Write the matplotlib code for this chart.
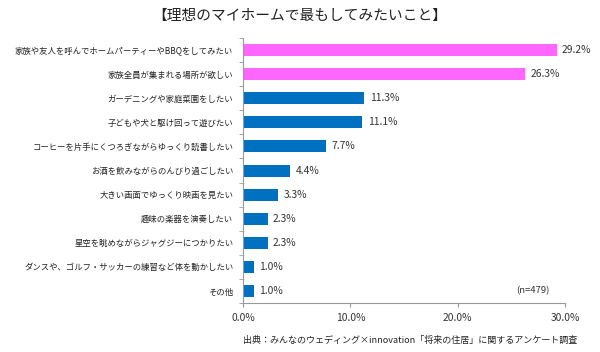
import matplotlib
matplotlib.use("Agg")
import matplotlib.pyplot as plt
import numpy as np

plt.rcParams['font.family'] = ['Noto Sans CJK JP', 'DejaVu Sans']

labels = [
    "家族や友人を呼んでホームパーティーやBBQをしてみたい",
    "家族全員が集まれる場所が欲しい",
    "ガーデニングや家庭菜園をしたい",
    "子どもや犬と駆け回って遊びたい",
    "コーヒーを片手にくつろぎながらゆっくり読書したい",
    "お酒を飲みながらのんびり過ごしたい",
    "大きい画面でゆっくり映画を見たい",
    "趣味の楽器を演奏したい",
    "星空を眺めながらジャグジーにつかりたい",
    "ダンスや、ゴルフ・サッカーの練習など体を動かしたい",
    "その他",
]
values = [29.2, 26.3, 11.3, 11.1, 7.7, 4.4, 3.3, 2.3, 2.3, 1.0, 1.0]
highlight = [True, True] + [False] * 9

pink = "#FF66FF"
blue = "#0070C0"
colors = [pink if h else blue for h in highlight]

fig = plt.figure(figsize=(6, 3.52), dpi=100)
ax = fig.add_axes([0.405, 0.139, 0.537, 0.753])

y = np.arange(len(labels))
ax.barh(y, values, height=0.5, color=colors)
for yi, v in zip(y, values):
    ax.text(v + 0.5, yi, f"{v:.1f}%", va="center", ha="left", fontsize=7.4, color="#333333")

ax.set_ylim(len(labels) - 0.5, -0.5)
ax.set_xlim(0, 30)
ax.set_xticks([0, 10, 20, 30])
ax.set_xticklabels(["0.0%", "10.0%", "20.0%", "30.0%"], fontsize=7.4, color="#333333")
ax.set_yticks(y)
ax.set_yticklabels(labels, fontsize=6.0, color="#222222")
ax.tick_params(axis="y", length=0, pad=7)
ax.set_yticks(np.arange(-0.5, len(labels), 1), minor=True)
ax.tick_params(axis="y", which="minor", length=3, color="#999999")
ax.tick_params(axis="x", length=3, color="#999999", pad=4)

for s in ["top", "right"]:
    ax.spines[s].set_visible(False)
for s in ["left", "bottom"]:
    ax.spines[s].set_color("#999999")
    ax.spines[s].set_linewidth(0.8)

fig.text(0.5, 0.955, "【理想のマイホームで最もしてみたいこと】", ha="center", va="center",
         fontsize=10.6, color="#222222")
ax.text(27.0, 10.0, "(n=479)", ha="center", va="center", fontsize=6.8, color="#333333")
fig.text(0.684, 0.032, "出典：みんなのウェディング×innovation「将来の住居」に関するアンケート調査",
         ha="center", va="center", fontsize=6.5, color="#222222")

fig.savefig("out.png", dpi=100)
